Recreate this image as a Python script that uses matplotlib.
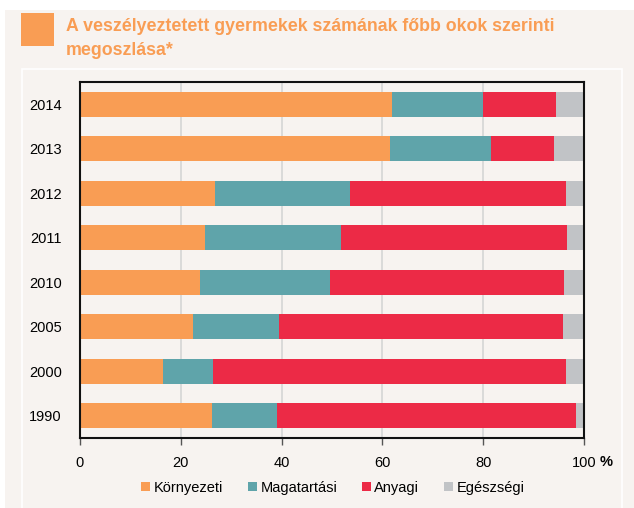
import matplotlib
matplotlib.use('Agg')
import matplotlib.pyplot as plt
from matplotlib.patches import Rectangle, Patch
import numpy as np

years = ['1990', '2000', '2005', '2010', '2011', '2012', '2013', '2014']
kornyezeti = [26.1, 16.5, 22.5, 23.8, 24.8, 26.8, 61.5, 61.9]
magatartasi = [13.0, 9.8, 17.0, 25.8, 27.0, 26.8, 20.1, 18.1]
anyagi = [59.3, 70.1, 56.4, 46.5, 44.8, 42.8, 12.5, 14.4]
egeszsegi = [1.6, 3.6, 4.1, 3.9, 3.4, 3.6, 5.9, 5.6]

series = [kornyezeti, magatartasi, anyagi, egeszsegi]
labels = ['Környezeti', 'Magatartási', 'Anyagi', 'Egészségi']
colors = ['#F99D54', '#5FA4AA', '#EC2A46', '#C1C3C6']
title_lines = ['A veszélyeztetett gyermekek számának főbb okok szerinti', 'megoszlása*']

bg = '#F7F3F0'
plt.rcParams['font.family'] = ['Liberation Sans', 'DejaVu Sans']

fig = plt.figure(figsize=(6.34, 5.08), dpi=100)
W, H = 634, 508
# page background and inner panel
fig.patches.append(Rectangle((5 / W, 0), 1, 1 - 10 / H, transform=fig.transFigure,
                             facecolor=bg, edgecolor='none', zorder=-3))
fig.patches.append(Rectangle((22 / W, -0.02), (622 - 22) / W, 1 - 69 / H + 0.02,
                             transform=fig.transFigure, facecolor=bg,
                             edgecolor='white', linewidth=1.2, zorder=-2))
fig.patches.append(Rectangle((21 / W, 1 - 46 / H), 33 / W, 33 / H, transform=fig.transFigure,
                             facecolor='#F99D54', edgecolor='none'))
for i, line in enumerate(title_lines):
    fig.text(66 / W, 1 - (31 + 24 * i) / H, line, color='#F99D54', fontsize=12.8,
             fontweight='bold', va='baseline', ha='left')

ax = fig.add_axes([80 / W, 1 - 438 / H, (584 - 80) / W, (438 - 82) / H])
ax.set_facecolor(bg)
y = np.arange(len(years))
left = np.zeros(len(years))
for vals, lab, c in zip(series, labels, colors):
    ax.barh(y, vals, left=left, height=0.56, color=c, label=lab, zorder=2)
    left += np.array(vals)

ax.set_xlim(0, 100)
ax.set_ylim(-0.5, len(years) - 0.5)
ax.set_yticks(y)
ax.set_yticklabels(years, fontsize=10.5)
ax.set_xticks([0, 20, 40, 60, 80, 100])
ax.set_xticklabels(['0', '20', '40', '60', '80', '100'], fontsize=10.5)
ax.tick_params(axis='y', length=0, pad=13)
ax.tick_params(axis='x', length=5, width=1, direction='out', pad=8, color='#555555')
for x in [20, 40, 60, 80]:
    ax.axvline(x, color='#D5D5D5', linewidth=1.2, zorder=1)
for s in ax.spines.values():
    s.set_linewidth(1.5)
    s.set_color('#111111')
fig.text(600 / W, 1 - 462 / H, '%', fontsize=10.5, fontweight='bold', ha='left', va='center')

handles = [Patch(facecolor=c, edgecolor='none') for c in colors]
fig.legend(handles, labels, loc='center', bbox_to_anchor=(333 / W, 1 - 488 / H), ncol=4,
           frameon=False, fontsize=10.5, handlelength=0.6, handleheight=0.6,
           handletextpad=0.25, columnspacing=1.7)

fig.savefig('out.png', dpi=100, facecolor='white')
